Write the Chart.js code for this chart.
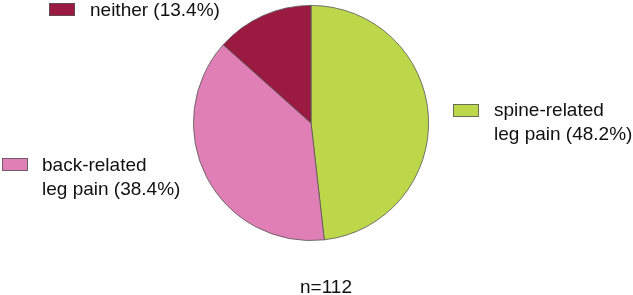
<!DOCTYPE html>
<html>
<head>
<meta charset="utf-8">
<script src="https://cdn.jsdelivr.net/npm/chart.js@4"></script>
<style>
html,body{margin:0;padding:0;background:#fff;}
#wrap{position:relative;width:633px;height:295px;}
</style>
</head>
<body>
<div id="wrap"><canvas id="c" width="633" height="295"></canvas></div>
<script>
// Data
const categories = ["spine-related leg pain", "back-related leg pain", "neither"];
const percentages = [48.2, 38.4, 13.4];
const labelLines = [
  ["spine-related", "leg pain (48.2%)"],
  ["back-related", "leg pain (38.4%)"],
  ["neither (13.4%)"]
];
const sampleNote = "n=112";
const colors = ["#bdd74b", "#e07fb5", "#9b1a42"];

// label layout: [boxX, boxY, textX, firstBaseline]
const labelPos = [
  [453, 104, 494, 116],
  [2, 158, 42, 171],
  [49, 3, 90, 16]
];

const labelPlugin = {
  id: 'sideLabels',
  afterDraw(chart) {
    const ctx = chart.ctx;
    ctx.save();
    ctx.font = '19px "Liberation Sans", Arial, sans-serif';
    ctx.textBaseline = 'alphabetic';
    ctx.textAlign = 'left';
    labelLines.forEach((lines, i) => {
      const [bx, by, tx, ty] = labelPos[i];
      ctx.fillStyle = colors[i];
      ctx.fillRect(bx, by, 26, 13);
      ctx.strokeStyle = '#555';
      ctx.lineWidth = 0.8;
      ctx.strokeRect(bx + 0.5, by + 0.5, 25, 12);
      ctx.fillStyle = '#111';
      lines.forEach((ln, j) => ctx.fillText(ln, tx, ty + j * 24));
    });
    ctx.textAlign = 'center';
    ctx.fillText(sampleNote, 326, 293);
    ctx.restore();
  }
};

new Chart(document.getElementById('c'), {
  type: 'pie',
  data: {
    labels: categories,
    datasets: [{
      data: percentages,
      backgroundColor: colors,
      borderColor: '#555',
      borderWidth: 0.8
    }]
  },
  options: {
    responsive: false,
    animation: false,
    layout: { padding: { left: 193, right: 204, top: 5, bottom: 54 } },
    plugins: { legend: { display: false }, tooltip: { enabled: false } }
  },
  plugins: [labelPlugin]
});
</script>
</body>
</html>
